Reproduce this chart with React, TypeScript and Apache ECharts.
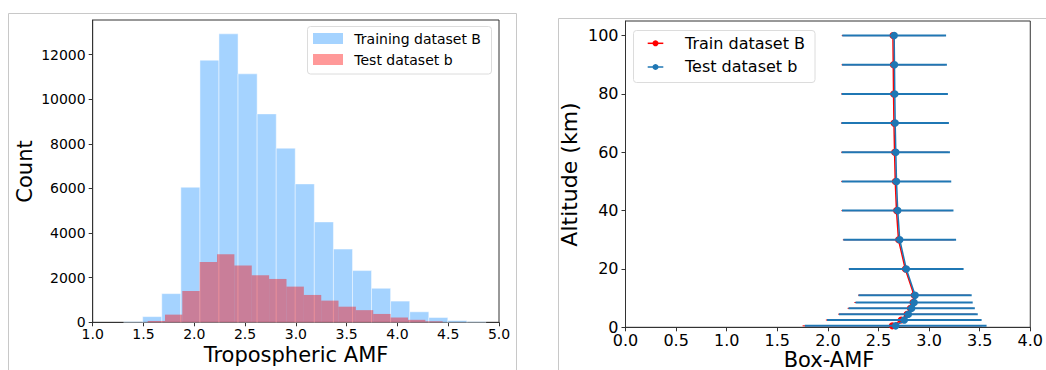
import React, { useEffect, useRef } from "react";
import * as echarts from "echarts";

// ---------- Left panel: histograms of tropospheric AMF ----------
const trainEdges = [1.305, 1.492, 1.68, 1.868, 2.056, 2.243, 2.431, 2.619, 2.807, 2.994, 3.182, 3.37, 3.558, 3.745, 3.933, 4.121, 4.309, 4.496, 4.684, 4.872];
const trainCounts = [30, 254, 1285, 6054, 11748, 12930, 11136, 9342, 7803, 6203, 4499, 3280, 2317, 1525, 950, 470, 215, 75, 30];
const testEdges = [1.541, 1.712, 1.882, 2.053, 2.224, 2.395, 2.566, 2.737, 2.908, 3.079, 3.25, 3.42, 3.591, 3.762, 3.933, 4.104, 4.275, 4.445];
const testCounts = [60, 344, 1405, 2706, 3049, 2541, 2108, 1943, 1600, 1226, 972, 700, 545, 375, 215, 112, 45];
const histXTicks = [1.0, 1.5, 2.0, 2.5, 3.0, 3.5, 4.0, 4.5, 5.0];
const histYTicks = [0, 2000, 4000, 6000, 8000, 10000, 12000];

// ---------- Right panel: Box-AMF profiles ----------
const altitudes = [0.5, 2.5, 4.5, 6.5, 8.5, 11, 20, 30, 40, 50, 60, 70, 80, 90, 100];
const trainMean = [2.636, 2.724, 2.782, 2.815, 2.84, 2.852, 2.765, 2.698, 2.678, 2.666, 2.659, 2.653, 2.649, 2.646, 2.643];
const trainStd = [0.886, 0.744, 0.68, 0.62, 0.578, 0.553, 0.56, 0.55, 0.544, 0.534, 0.528, 0.524, 0.518, 0.511, 0.506];
const testMean = [2.67, 2.755, 2.795, 2.828, 2.852, 2.862, 2.775, 2.71, 2.69, 2.678, 2.671, 2.665, 2.661, 2.658, 2.655];
const testStd = [0.898, 0.764, 0.686, 0.624, 0.579, 0.559, 0.566, 0.557, 0.551, 0.541, 0.535, 0.531, 0.525, 0.518, 0.513];
const amfXTicks = [0, 0.5, 1.0, 1.5, 2.0, 2.5, 3.0, 3.5, 4.0];
const altTicks = [0, 20, 40, 60, 80, 100];

const FONT = "DejaVu Sans";
const SPINE = "#333";
const BLUE_HIST = "rgba(30,144,255,0.4)";
const RED_HIST = "rgba(255,0,0,0.4)";
const TAB_BLUE = "#1f77b4";
const RED = "#ff0000";

function histData(edges: number[], counts: number[]) {
  return counts.map((c, i) => [edges[i], edges[i + 1], c]);
}

function histRender(fill: string, stroke: string) {
  return (_params: any, api: any) => {
    const l = api.value(0);
    const r = api.value(1);
    const c = api.value(2);
    const p0 = api.coord([l, c]);
    const p1 = api.coord([r, 0]);
    return {
      type: "rect",
      shape: { x: p0[0], y: p0[1], width: p1[0] - p0[0], height: p1[1] - p0[1] },
      style: { fill, stroke, lineWidth: stroke === "none" ? 0 : 1 },
    };
  };
}

function errRender(color: string, width: number) {
  return (_params: any, api: any) => {
    const lo = api.value(0);
    const hi = api.value(1);
    const alt = api.value(2);
    const p0 = api.coord([lo, alt]);
    const p1 = api.coord([hi, alt]);
    return {
      type: "line",
      shape: { x1: p0[0], y1: p0[1], x2: p1[0], y2: p1[1] },
      style: { stroke: color, lineWidth: width },
    };
  };
}

function axisCommon(fontSize: number, margin: number) {
  return {
    axisLine: { show: true, lineStyle: { color: SPINE, width: 1 } },
    axisTick: { show: true, length: 4, lineStyle: { color: SPINE, width: 1 } },
    splitLine: { show: false },
    axisLabel: { fontSize, color: "#000", fontFamily: FONT, margin },
  };
}

export default function App() {
  const ref = useRef<HTMLDivElement>(null);

  useEffect(() => {
    if (!ref.current) return;
    const chart = echarts.init(ref.current, undefined, { renderer: "svg" });

    const trainErr = altitudes.map((a, i) => [trainMean[i] - trainStd[i], trainMean[i] + trainStd[i], a]);
    const testErr = altitudes.map((a, i) => [testMean[i] - testStd[i], testMean[i] + testStd[i], a]);

    const option: any = {
      animation: false,
      backgroundColor: "#fff",
      textStyle: { fontFamily: FONT },
      grid: [
        { left: 92.7, top: 20, width: 406.3, height: 302.3, show: true, borderColor: SPINE, borderWidth: 1, backgroundColor: "transparent" },
        { left: 625.5, top: 21, width: 409, height: 306.3, show: true, borderColor: SPINE, borderWidth: 1, backgroundColor: "transparent" },
      ],
      xAxis: [
        (() => {
          const c: any = axisCommon(14, 5);
          return {
            ...c,
            type: "value",
            gridIndex: 0,
            min: 1,
            max: 5,
            interval: 0.5,
            axisTick: { ...c.axisTick, customValues: histXTicks },
            axisLabel: { ...c.axisLabel, customValues: histXTicks, formatter: (v: number) => v.toFixed(1) },
          };
        })(),
        (() => {
          const c: any = axisCommon(16, 5);
          return {
            ...c,
            type: "value",
            gridIndex: 1,
            min: 0,
            max: 4,
            interval: 0.5,
            axisTick: { ...c.axisTick, customValues: amfXTicks },
            axisLabel: { ...c.axisLabel, customValues: amfXTicks, formatter: (v: number) => v.toFixed(1) },
          };
        })(),
      ],
      yAxis: [
        (() => {
          const c: any = axisCommon(14, 7);
          return {
            ...c,
            type: "value",
            gridIndex: 0,
            min: 0,
            max: 13550,
            interval: 2000,
            axisTick: { ...c.axisTick, customValues: histYTicks },
            axisLabel: { ...c.axisLabel, customValues: histYTicks, formatter: (v: number) => String(Math.round(v)) },
          };
        })(),
        (() => {
          const c: any = axisCommon(16, 7);
          return {
            ...c,
            type: "value",
            gridIndex: 1,
            min: 0,
            max: 105,
            interval: 20,
            axisTick: { ...c.axisTick, customValues: altTicks },
            axisLabel: { ...c.axisLabel, customValues: altTicks, formatter: (v: number) => String(Math.round(v)) },
          };
        })(),
      ],
      series: [
        {
          name: "Training dataset B",
          type: "custom",
          xAxisIndex: 0,
          yAxisIndex: 0,
          coordinateSystem: "cartesian2d",
          data: histData(trainEdges, trainCounts),
          encode: { x: [0, 1], y: 2 },
          renderItem: histRender(BLUE_HIST, "rgba(255,255,255,0.45)"),
          z: 2,
        },
        {
          name: "Test dataset b",
          type: "custom",
          xAxisIndex: 0,
          yAxisIndex: 0,
          coordinateSystem: "cartesian2d",
          data: histData(testEdges, testCounts),
          encode: { x: [0, 1], y: 2 },
          renderItem: histRender(RED_HIST, "none"),
          z: 3,
        },
        {
          name: "Train error",
          type: "custom",
          xAxisIndex: 1,
          yAxisIndex: 1,
          coordinateSystem: "cartesian2d",
          data: trainErr,
          encode: { x: [0, 1], y: 2 },
          renderItem: errRender(RED, 1),
          z: 2,
        },
        {
          name: "Train dataset B",
          type: "line",
          xAxisIndex: 1,
          yAxisIndex: 1,
          data: altitudes.map((a, i) => [trainMean[i], a]),
          lineStyle: { color: RED, width: 1.5 },
          itemStyle: { color: RED },
          symbol: "circle",
          symbolSize: 7,
          showSymbol: true,
          z: 3,
        },
        {
          name: "Test error",
          type: "custom",
          xAxisIndex: 1,
          yAxisIndex: 1,
          coordinateSystem: "cartesian2d",
          data: testErr,
          encode: { x: [0, 1], y: 2 },
          renderItem: errRender(TAB_BLUE, 2),
          z: 4,
        },
        {
          name: "Test dataset b",
          type: "line",
          xAxisIndex: 1,
          yAxisIndex: 1,
          data: altitudes.map((a, i) => [testMean[i], a]),
          lineStyle: { color: TAB_BLUE, width: 1.5 },
          itemStyle: { color: TAB_BLUE },
          symbol: "circle",
          symbolSize: 7.5,
          showSymbol: true,
          z: 5,
        },
      ],
      graphic: [
        // outer panel frames
        { type: "rect", z: 0, silent: true, shape: { x: 8.5, y: 13.5, width: 508, height: 400 }, style: { fill: "none", stroke: "#c8c8c8", lineWidth: 1 } },
        { type: "rect", z: 0, silent: true, shape: { x: 558.5, y: 18.5, width: 500, height: 400 }, style: { fill: "none", stroke: "#c8c8c8", lineWidth: 1 } },
        // axis titles
        { type: "text", x: 25, y: 171.5, rotation: Math.PI / 2, z: 10, style: { text: "Count", fontSize: 21, fontFamily: FONT, fill: "#000", textAlign: "center", textVerticalAlign: "middle" } },
        { type: "text", x: 296, y: 355, z: 10, style: { text: "Tropospheric AMF", fontSize: 21, fontFamily: FONT, fill: "#000", textAlign: "center", textVerticalAlign: "middle" } },
        { type: "text", x: 569, y: 174.5, rotation: Math.PI / 2, z: 10, style: { text: "Altitude (km)", fontSize: 22, fontFamily: FONT, fill: "#000", textAlign: "center", textVerticalAlign: "middle" } },
        { type: "text", x: 829, y: 360, z: 10, style: { text: "Box-AMF", fontSize: 21, fontFamily: FONT, fill: "#000", textAlign: "center", textVerticalAlign: "middle" } },
        // left legend
        { type: "rect", z: 10, shape: { x: 307.5, y: 26.5, width: 184, height: 47.5, r: 3 }, style: { fill: "rgba(255,255,255,0.8)", stroke: "#dcdcdc", lineWidth: 1 } },
        { type: "rect", z: 11, shape: { x: 313, y: 33, width: 30, height: 11 }, style: { fill: BLUE_HIST } },
        { type: "rect", z: 11, shape: { x: 313, y: 54, width: 30, height: 11 }, style: { fill: RED_HIST } },
        { type: "text", z: 11, x: 354.3, y: 38.7, style: { text: "Training dataset B", fontSize: 14, fontFamily: FONT, fill: "#000", textAlign: "left", textVerticalAlign: "middle" } },
        { type: "text", z: 11, x: 354.3, y: 59.8, style: { text: "Test dataset b", fontSize: 14, fontFamily: FONT, fill: "#000", textAlign: "left", textVerticalAlign: "middle" } },
        // right legend
        { type: "rect", z: 10, shape: { x: 633.5, y: 30.5, width: 181.5, height: 52, r: 3 }, style: { fill: "rgba(255,255,255,0.8)", stroke: "#dcdcdc", lineWidth: 1 } },
        { type: "line", z: 11, shape: { x1: 647.7, y1: 43.3, x2: 663.3, y2: 43.3 }, style: { stroke: RED, lineWidth: 1.5 } },
        { type: "circle", z: 11, shape: { cx: 655.5, cy: 43.3, r: 3 }, style: { fill: RED } },
        { type: "line", z: 11, shape: { x1: 647.7, y1: 67, x2: 663.3, y2: 67 }, style: { stroke: TAB_BLUE, lineWidth: 1.5 } },
        { type: "circle", z: 11, shape: { cx: 655.5, cy: 67, r: 3 }, style: { fill: TAB_BLUE } },
        { type: "text", z: 11, x: 685, y: 43.3, style: { text: "Train dataset B", fontSize: 16, fontFamily: FONT, fill: "#000", textAlign: "left", textVerticalAlign: "middle" } },
        { type: "text", z: 11, x: 685, y: 66.8, style: { text: "Test dataset b", fontSize: 16, fontFamily: FONT, fill: "#000", textAlign: "left", textVerticalAlign: "middle" } },
      ],
    };

    chart.setOption(option);
    return () => chart.dispose();
  }, []);

  return (
    <div
      ref={ref}
      style={{ position: "fixed", left: 0, top: 0, width: 1046, height: 370, background: "#fff" }}
    />
  );
}
